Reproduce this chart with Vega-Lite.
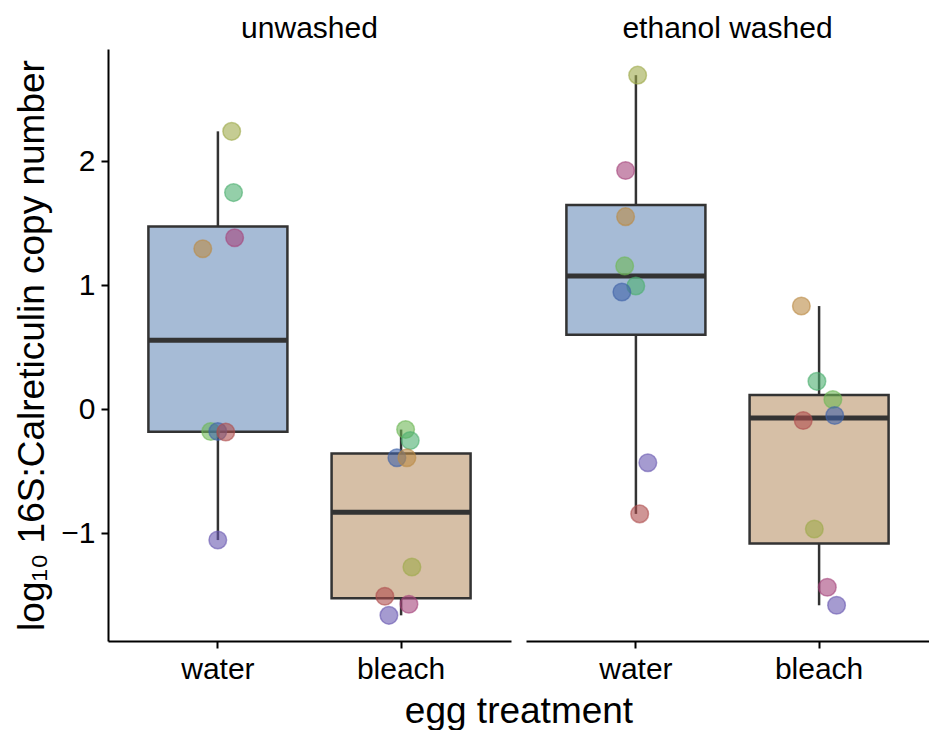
{
  "$schema": "https://vega.github.io/schema/vega-lite/v6.json",
  "background": "white",
  "padding": {"left": 13, "right": 0, "top": 14, "bottom": 0},
  "config": {
    "font": "Liberation Sans",
    "view": {"stroke": null},
    "axis": {"grid": false, "domainColor": "black", "domainWidth": 2, "tickColor": "black", "tickWidth": 2, "tickSize": 7, "labelColor": "black", "labelFontSize": 30, "titleFontSize": 37, "titleFontWeight": "normal", "titleColor": "black", "labelFont": "Liberation Sans", "titleFont": "Liberation Sans"}
  },
  "data": {"values": [
    {"wash": "unwashed", "treatment": "water", "group": "A", "value": 2.243, "jitter": 0.07},
    {"wash": "unwashed", "treatment": "water", "group": "B", "value": 1.749, "jitter": 0.08},
    {"wash": "unwashed", "treatment": "water", "group": "D", "value": 1.385, "jitter": 0.086},
    {"wash": "unwashed", "treatment": "water", "group": "E", "value": 1.296, "jitter": -0.086},
    {"wash": "unwashed", "treatment": "water", "group": "C", "value": -0.178, "jitter": -0.043},
    {"wash": "unwashed", "treatment": "water", "group": "F", "value": -0.178, "jitter": -0.005},
    {"wash": "unwashed", "treatment": "water", "group": "G", "value": -0.182, "jitter": 0.038},
    {"wash": "unwashed", "treatment": "water", "group": "H", "value": -1.053, "jitter": -0.005},
    {"wash": "unwashed", "treatment": "bleach", "group": "C", "value": -0.162, "jitter": 0.02},
    {"wash": "unwashed", "treatment": "bleach", "group": "B", "value": -0.251, "jitter": 0.045},
    {"wash": "unwashed", "treatment": "bleach", "group": "F", "value": -0.389, "jitter": -0.027},
    {"wash": "unwashed", "treatment": "bleach", "group": "E", "value": -0.389, "jitter": 0.027},
    {"wash": "unwashed", "treatment": "bleach", "group": "A", "value": -1.27, "jitter": 0.054},
    {"wash": "unwashed", "treatment": "bleach", "group": "G", "value": -1.506, "jitter": -0.092},
    {"wash": "unwashed", "treatment": "bleach", "group": "D", "value": -1.571, "jitter": 0.038},
    {"wash": "unwashed", "treatment": "bleach", "group": "H", "value": -1.66, "jitter": -0.07},
    {"wash": "ethanol washed", "treatment": "water", "group": "A", "value": 2.696, "jitter": 0.005},
    {"wash": "ethanol washed", "treatment": "water", "group": "D", "value": 1.927, "jitter": -0.06},
    {"wash": "ethanol washed", "treatment": "water", "group": "E", "value": 1.555, "jitter": -0.06},
    {"wash": "ethanol washed", "treatment": "water", "group": "C", "value": 1.158, "jitter": -0.065},
    {"wash": "ethanol washed", "treatment": "water", "group": "B", "value": 0.996, "jitter": -0.005},
    {"wash": "ethanol washed", "treatment": "water", "group": "F", "value": 0.947, "jitter": -0.08},
    {"wash": "ethanol washed", "treatment": "water", "group": "H", "value": -0.429, "jitter": 0.06},
    {"wash": "ethanol washed", "treatment": "water", "group": "G", "value": -0.842, "jitter": 0.016},
    {"wash": "ethanol washed", "treatment": "bleach", "group": "E", "value": 0.834, "jitter": -0.1},
    {"wash": "ethanol washed", "treatment": "bleach", "group": "B", "value": 0.227, "jitter": -0.016},
    {"wash": "ethanol washed", "treatment": "bleach", "group": "C", "value": 0.081, "jitter": 0.07},
    {"wash": "ethanol washed", "treatment": "bleach", "group": "F", "value": -0.049, "jitter": 0.08},
    {"wash": "ethanol washed", "treatment": "bleach", "group": "G", "value": -0.089, "jitter": -0.09},
    {"wash": "ethanol washed", "treatment": "bleach", "group": "A", "value": -0.964, "jitter": -0.03},
    {"wash": "ethanol washed", "treatment": "bleach", "group": "D", "value": -1.433, "jitter": 0.04},
    {"wash": "ethanol washed", "treatment": "bleach", "group": "H", "value": -1.579, "jitter": 0.09}
  ]},
  "facet": {"column": {"field": "wash", "type": "nominal", "sort": ["unwashed", "ethanol washed"], "title": "egg treatment", "header": {"labelOrient": "top", "titleOrient": "bottom", "labelFontSize": 30, "labelFont": "Liberation Sans", "labelColor": "black", "labelPadding": 5, "titleFontSize": 37, "titleFont": "Liberation Sans", "titleFontWeight": "normal", "titleColor": "black", "titlePadding": 0}}},
  "spacing": 15,
  "spec": {
    "width": 403,
    "height": 592,
    "layer": [
      {
        "mark": {"type": "boxplot", "extent": 1.5, "size": 139, "outliers": false, "ticks": false,
          "box": {"stroke": "#333333", "strokeWidth": 2.5, "opacity": 1},
          "median": {"color": "#333333", "thickness": 5, "opacity": 1},
          "rule": {"stroke": "#333333", "strokeWidth": 2.5, "opacity": 1}},
        "encoding": {
          "x": {"field": "treatment", "type": "nominal", "sort": ["water", "bleach"], "scale": {"paddingInner": 0.25, "paddingOuter": 0.225}, "title": null, "axis": {"labelAngle": 0, "labelPadding": 6}},
          "y": {"field": "value", "type": "quantitative", "scale": {"domain": [-1.867, 2.907], "nice": false, "zero": false}, "title": "log₁₀ 16S:Calreticulin copy number", "axis": {"values": [-1, 0, 1, 2], "format": "d", "labelPadding": 6, "titlePadding": 9}},
          "color": {"field": "treatment", "type": "nominal", "scale": {"domain": ["water", "bleach"], "range": ["#a6bbd6", "#d6bfa6"]}, "legend": null}
        }
      },
      {
        "mark": {"type": "point", "shape": "circle", "size": 310, "fillOpacity": 0.6, "strokeOpacity": 0.6, "strokeWidth": 1.5},
        "encoding": {
          "x": {"field": "treatment", "type": "nominal", "sort": ["water", "bleach"]},
          "xOffset": {"field": "jitter", "type": "quantitative", "scale": {"domain": [-0.375, 0.375], "range": [0, 139]}},
          "y": {"field": "value", "type": "quantitative"},
          "fill": {"field": "group", "type": "nominal", "scale": {"domain": ["A", "B", "C", "D", "E", "F", "G", "H"], "range": ["#9eaa4b", "#4daf70", "#6eb757", "#a5447b", "#bb8a44", "#3f62a8", "#af4e4e", "#6958b1"]}, "legend": null},
          "stroke": {"field": "group", "type": "nominal", "scale": {"domain": ["A", "B", "C", "D", "E", "F", "G", "H"], "range": ["#9eaa4b", "#4daf70", "#6eb757", "#a5447b", "#bb8a44", "#3f62a8", "#af4e4e", "#6958b1"]}, "legend": null}
        }
      }
    ]
  }
}
